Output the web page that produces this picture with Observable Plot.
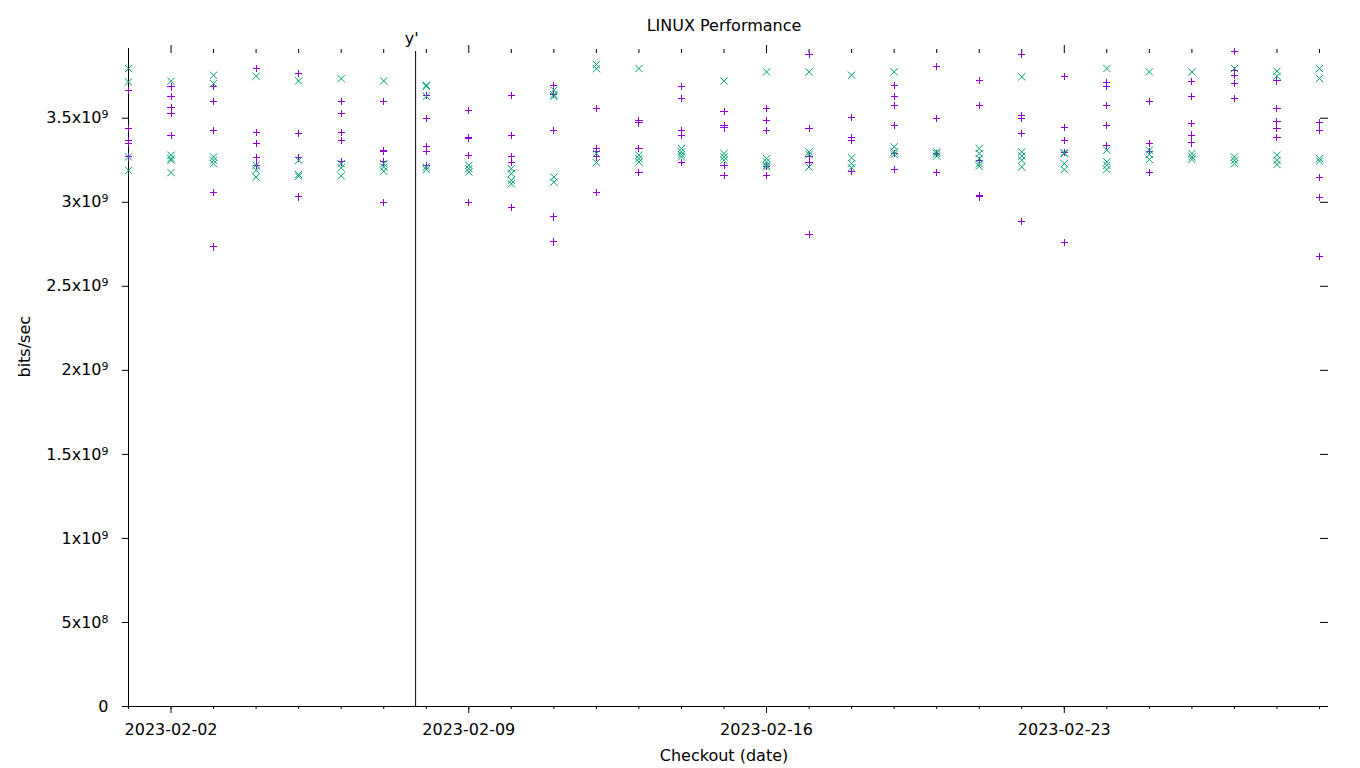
<!DOCTYPE html>
<html>
<head>
<meta charset="utf-8">
<script src="https://cdn.jsdelivr.net/npm/d3@7"></script>
<script src="https://cdn.jsdelivr.net/npm/@observablehq/plot@0.6"></script>
<style>
  html, body { margin: 0; padding: 0; background: #fff; }
  #chart svg { display: block; }
</style>
</head>
<body>
<div id="chart"></div>
<script>
// ---- Text ----
const chartTitle = "LINUX Performance";
const xLabel = "Checkout (date)";
const yLabel = "bits/sec";

// ---- Axes ----
const xDomain = ["2023-02-01", "2023-03-01"];
const xTickLabels = ["2023-02-02", "2023-02-09", "2023-02-16", "2023-02-23"];
const yTicks = [0, 5e8, 1e9, 1.5e9, 2e9, 2.5e9, 3e9, 3.5e9];
const yTickLabels = ["0", "5x10⁸", "1x10⁹", "1.5x10⁹", "2x10⁹", "2.5x10⁹", "3x10⁹", "3.5x10⁹"];
const yMax = 3.915e9;

// ---- Marker line ----
const markerDates = ["2023-02-07T18:00:00Z"];
const markerLabels = ["y'"];

// ---- Data (values in units of 1e9 bits/sec) ----
const dates = [
  "2023-02-01","2023-02-02","2023-02-03","2023-02-04","2023-02-05","2023-02-06","2023-02-07",
  "2023-02-08","2023-02-09","2023-02-10","2023-02-11","2023-02-12","2023-02-13","2023-02-14",
  "2023-02-15","2023-02-16","2023-02-17","2023-02-18","2023-02-19","2023-02-20","2023-02-21",
  "2023-02-22","2023-02-23","2023-02-24","2023-02-25","2023-02-26","2023-02-27","2023-02-28",
  "2023-03-01"
];
const plusSeries = [
  [3.667, 3.44, 3.37, 3.35, 3.27],
  [3.686, 3.631, 3.561, 3.528, 3.397],
  [3.69, 3.601, 3.429, 3.058, 2.734],
  [3.796, 3.415, 3.349, 3.264, 3.22],
  [3.766, 3.409, 3.264, 3.032],
  [3.601, 3.528, 3.415, 3.369, 3.24],
  [3.601, 3.31, 3.30, 3.24, 2.998],
  [3.633, 3.498, 3.329, 3.305, 3.22],
  [3.548, 3.387, 3.38, 3.278, 2.998],
  [3.635, 3.397, 3.27, 3.236, 2.968],
  [3.696, 3.64, 3.429, 2.913, 2.764],
  [3.558, 3.32, 3.30, 3.27, 3.058],
  [3.488, 3.472, 3.32, 3.177],
  [3.69, 3.617, 3.429, 3.395, 3.236],
  [3.54, 3.454, 3.442, 3.218, 3.157],
  [3.558, 3.486, 3.427, 3.214, 3.157],
  [3.879, 3.439, 3.274, 3.236, 2.808],
  [3.504, 3.385, 3.369, 3.186],
  [3.696, 3.631, 3.577, 3.456, 3.29, 3.194],
  [3.81, 3.498, 3.29, 3.177],
  [3.724, 3.575, 3.25, 3.042, 3.032],
  [3.879, 3.516, 3.498, 3.409, 2.885],
  [3.748, 3.445, 3.367, 3.294, 2.76],
  [3.71, 3.69, 3.575, 3.456, 3.339],
  [3.599, 3.349, 3.30, 3.177],
  [3.718, 3.629, 3.468, 3.40, 3.353],
  [3.895, 3.786, 3.756, 3.706, 3.617],
  [3.722, 3.558, 3.478, 3.439, 3.385],
  [3.476, 3.43, 3.147, 3.028, 2.677]
];
const timesSeries = [
  [3.796, 3.716, 3.27, 3.19],
  [3.72, 3.28, 3.26, 3.25, 3.177],
  [3.756, 3.706, 3.27, 3.25, 3.23],
  [3.75, 3.22, 3.19, 3.15],
  [3.722, 3.25, 3.165, 3.155],
  [3.736, 3.23, 3.205, 3.157],
  [3.722, 3.23, 3.21, 3.185],
  [3.696, 3.69, 3.63, 3.21, 3.195],
  [3.22, 3.20, 3.18],
  [3.20, 3.17, 3.13, 3.11],
  [3.667, 3.64, 3.63, 3.15, 3.12],
  [3.82, 3.795, 3.29, 3.236],
  [3.796, 3.28, 3.26, 3.24],
  [3.32, 3.30, 3.285, 3.27],
  [3.722, 3.29, 3.27, 3.25],
  [3.776, 3.26, 3.24, 3.22, 3.21],
  [3.776, 3.30, 3.285, 3.21],
  [3.756, 3.265, 3.23, 3.205],
  [3.776, 3.33, 3.30, 3.285],
  [3.30, 3.29, 3.275],
  [3.32, 3.29, 3.26, 3.23, 3.215],
  [3.746, 3.30, 3.275, 3.25, 3.21],
  [3.294, 3.29, 3.23, 3.195],
  [3.796, 3.31, 3.24, 3.22, 3.195],
  [3.776, 3.31, 3.285, 3.255],
  [3.776, 3.29, 3.27, 3.255],
  [3.796, 3.27, 3.25, 3.23],
  [3.78, 3.75, 3.28, 3.25, 3.225],
  [3.796, 3.736, 3.26, 3.245]
];
const UNIT = 1e9;
const plusColor = "#9400D3";
const timesColor = "#009E73";

// ---- Build tables ----
const toRows = (series) => dates.flatMap((d, i) => series[i].map(v => ({date: new Date(d), value: v * UNIT})));
const plusRows = toRows(plusSeries);
const timesRows = toRows(timesSeries);
const markers = markerDates.map((d, i) => ({date: new Date(d), label: markerLabels[i]}));

const x0 = new Date(xDomain[0]);
const x1 = new Date(xDomain[1]);
const dayTicks = d3.utcDay.range(x0, d3.utcDay.offset(x1, 1));
const majorTicks = xTickLabels.map(s => new Date(s));
const yLabelMap = new Map(yTicks.map((t, i) => [t, yTickLabels[i]]));

const chart = Plot.plot({
  width: 1360,
  height: 768,
  marginLeft: 128,
  marginRight: 41,
  marginTop: 48,
  marginBottom: 62,
  style: {fontFamily: "DejaVu Sans, sans-serif", fontSize: "16px", color: "#000", background: "#fff"},
  x: {type: "utc", domain: [x0, x1], label: null},
  y: {domain: [0, yMax], label: null},
  marks: [
    // left border and bottom axis line
    Plot.frame({anchor: "left", stroke: "#000"}),
    Plot.ruleY([0], {stroke: "#000", insetRight: -8}),
    // bottom axis: minor daily ticks, major weekly ticks with labels
    Plot.axisX({anchor: "bottom", ticks: dayTicks, tickSize: 3, tickFormat: () => "", stroke: "#000"}),
    Plot.axisX({anchor: "bottom", ticks: majorTicks, tickSize: 7, tickPadding: 10,
      tickFormat: d3.utcFormat("%Y-%m-%d"), stroke: "#000", fill: "#000"}),
    // top mirror ticks
    Plot.axisX({anchor: "top", ticks: dayTicks, tickSize: -4, tickFormat: () => "", stroke: "#000"}),
    Plot.axisX({anchor: "top", ticks: majorTicks, tickSize: 4, tickFormat: () => "", stroke: "#000"}),
    // left y axis
    Plot.axisY({anchor: "left", ticks: yTicks, tickSize: 6, tickPadding: 14,
      tickFormat: d => yLabelMap.get(d), stroke: "#000", fill: "#000"}),
    // right mirror ticks
    Plot.axisY({anchor: "right", ticks: yTicks, tickSize: 8, tickFormat: () => "", stroke: "#000"}),
    // vertical marker line
    Plot.ruleX(markers, {x: "date", stroke: "#000", insetTop: 3}),
    Plot.text(markers, {x: "date", text: "label", frameAnchor: "top", lineAnchor: "middle", dy: -10, dx: -4, fill: "#000"}),
    // data
    Plot.dot(plusRows, {x: "date", y: "value", symbol: "plus", r: 2.45, stroke: plusColor, strokeWidth: 1, shapeRendering: "crispEdges"}),
    Plot.dot(timesRows, {x: "date", y: "value", symbol: "times", r: 3.4, stroke: timesColor, strokeWidth: 1}),
    // titles
    Plot.text([chartTitle], {frameAnchor: "top", lineAnchor: "middle", dy: -23, fill: "#000"}),
    Plot.text([xLabel], {frameAnchor: "bottom", lineAnchor: "middle", dy: 49, fill: "#000"}),
    Plot.text([yLabel], {frameAnchor: "left", dx: -104, rotate: -90, fill: "#000"})
  ]
});
document.getElementById("chart").appendChild(chart);

// Render superscript exponents of the y tick labels as raised, smaller digits
const supDigits = "⁰¹²³⁴⁵⁶⁷⁸⁹";
chart.querySelectorAll('g[aria-label="y-axis tick label"] text').forEach(t => {
  const s = t.textContent;
  const m = /^(.*x10)([⁰¹²³⁴⁵⁶⁷⁸⁹]+)$/.exec(s);
  if (!m) return;
  const exp = Array.from(m[2]).map(c => supDigits.indexOf(c)).join("");
  t.textContent = "";
  const ns = "http://www.w3.org/2000/svg";
  const a = document.createElementNS(ns, "tspan");
  a.textContent = m[1];
  const b = document.createElementNS(ns, "tspan");
  b.textContent = exp;
  b.setAttribute("font-size", "11px");
  b.setAttribute("dy", "-5");
  t.appendChild(a);
  t.appendChild(b);
});
</script>
</body>
</html>
